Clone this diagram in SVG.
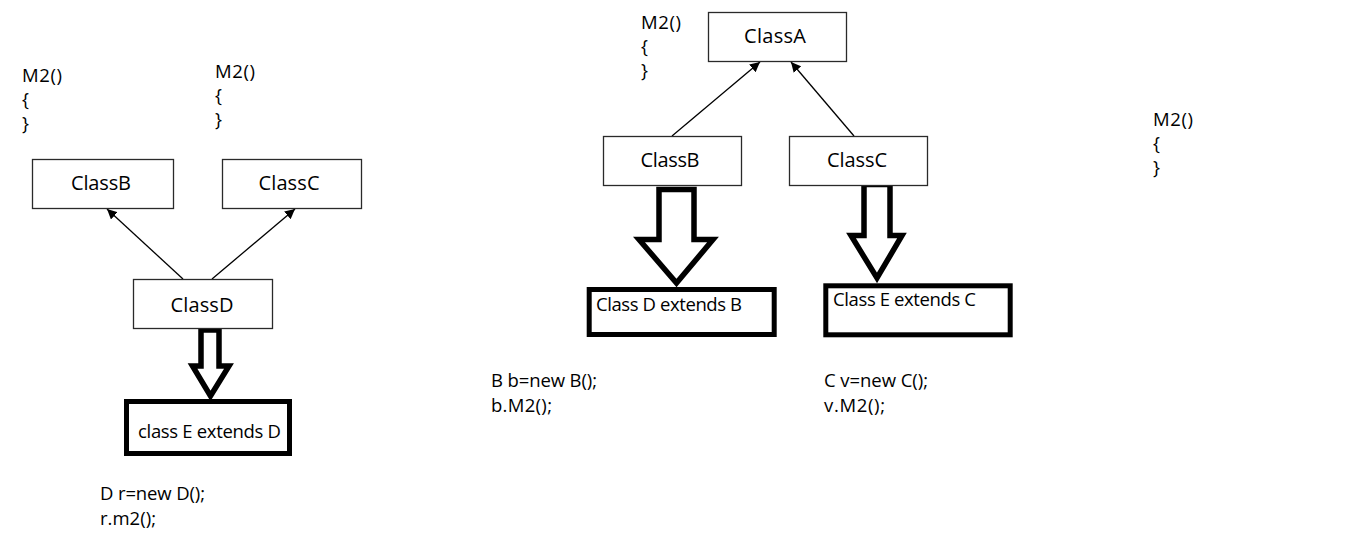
<svg xmlns="http://www.w3.org/2000/svg" width="1347" height="548" viewBox="0 0 1347 548">
<style>
text{font-family:"Open Sans","Liberation Sans",sans-serif;fill:#000}
.lbl{font-size:20px;text-anchor:middle}
.code{font-size:18.5px}
.box{fill:#fff;stroke:#2a2a2a;stroke-width:1.3}
.tbox{fill:#fff;stroke:#000;stroke-width:5}
.line{stroke:#000;stroke-width:1.3;fill:none}
.block{fill:#fff;stroke:#000;stroke-width:5.5;stroke-linejoin:miter}
</style>
<defs>
<marker id="ah" viewBox="0 0 10 10" refX="10" refY="5" markerWidth="10" markerHeight="10" markerUnits="userSpaceOnUse" orient="auto">
<path d="M0,0 L10,5 L0,10 Z" fill="#000"/>
</marker>
</defs>
<rect width="1347" height="548" fill="#fff"/>

<g id="connectors">
<line class="line" x1="183" y1="279" x2="107" y2="209" marker-end="url(#ah)"/>
<line class="line" x1="212" y1="279" x2="295" y2="209" marker-end="url(#ah)"/>
<line class="line" x1="672" y1="136" x2="760" y2="62" marker-end="url(#ah)"/>
<line class="line" x1="854" y1="136" x2="791" y2="62" marker-end="url(#ah)"/>
<path class="block" d="M201,330 L219,330 L219,366 L229,366 L210.5,396 L192.5,366 L201,366 Z"/>
<path class="block" d="M659,189.5 L694,189.5 L694,239.5 L713,239.5 L676.5,283 L639,239.5 L659,239.5 Z"/>
<path class="block" d="M864,184.5 L890,184.5 L890,235.5 L902,235.5 L877,278 L851,235.5 L864,235.5 Z"/>
</g>

<g id="notes">
<text class="code" x="22" y="82" textLength="40">M2()</text>
<text class="code" x="22" y="106">{</text>
<text class="code" x="22" y="130">}</text>
<text class="code" x="215" y="78" textLength="40">M2()</text>
<text class="code" x="215" y="102">{</text>
<text class="code" x="215" y="126">}</text>
<text class="code" x="641" y="29" textLength="40">M2()</text>
<text class="code" x="641" y="53">{</text>
<text class="code" x="641" y="77">}</text>
<text class="code" x="1153" y="126" textLength="40">M2()</text>
<text class="code" x="1153" y="150">{</text>
<text class="code" x="1153" y="174">}</text>
<text class="code" x="100" y="500" textLength="105">D r=new D();</text>
<text class="code" x="100" y="525" textLength="56">r.m2();</text>
<text class="code" x="491" y="386.5" textLength="106">B b=new B();</text>
<text class="code" x="491" y="412" textLength="61">b.M2();</text>
<text class="code" x="824" y="386.5" textLength="104">C v=new C();</text>
<text class="code" x="824" y="412" textLength="61">v.M2();</text>
</g>

<g id="left-classB">
<rect class="box" x="32.5" y="159.5" width="141" height="49"/>
<text class="lbl" x="101" y="190" textLength="60">ClassB</text>
</g>
<g id="left-classC">
<rect class="box" x="222.5" y="159.5" width="139" height="49"/>
<text class="lbl" x="289" y="190" textLength="61">ClassC</text>
</g>
<g id="left-classD">
<rect class="box" x="133.5" y="279.5" width="139" height="49"/>
<text class="lbl" x="202" y="311.5" textLength="63">ClassD</text>
</g>
<g id="left-classE">
<rect class="tbox" x="126.5" y="401.5" width="163" height="52"/>
<text class="code" x="138" y="438" textLength="143">class E extends D</text>
</g>

<g id="right-classA">
<rect class="box" x="708.5" y="12.5" width="138" height="49"/>
<text class="lbl" x="775" y="43" textLength="62">ClassA</text>
</g>
<g id="right-classB">
<rect class="box" x="603.5" y="136.5" width="138" height="49"/>
<text class="lbl" x="670" y="167" textLength="59">ClassB</text>
</g>
<g id="right-classC">
<rect class="box" x="789.5" y="136.5" width="138" height="49"/>
<text class="lbl" x="857" y="167" textLength="60">ClassC</text>
</g>
<g id="right-classD">
<rect class="tbox" x="589.2" y="289.5" width="185" height="45"/>
<text class="code" x="596" y="310.5" textLength="146">Class D extends B</text>
</g>
<g id="right-classE">
<rect class="tbox" x="825.8" y="285.8" width="184.4" height="49"/>
<text class="code" x="833" y="305.5" textLength="143">Class E extends C</text>
</g>
</svg>
